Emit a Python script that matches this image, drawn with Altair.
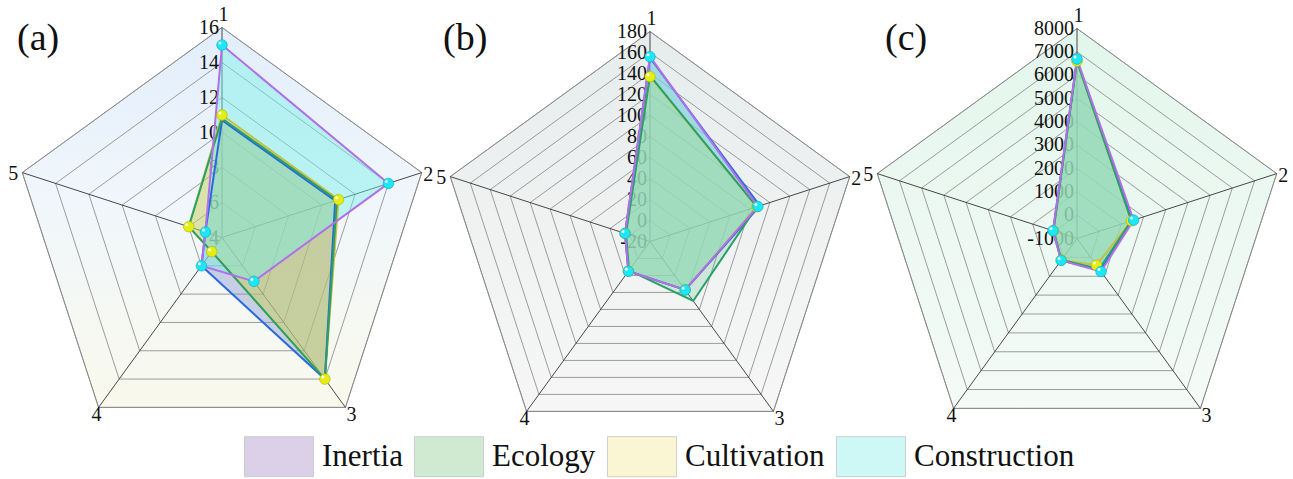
import altair as alt
import pandas as pd

FONT = "'Liberation Serif', 'Times New Roman', 'DejaVu Serif', serif"

# ---------------- data ----------------
PANELS = ["(a)", "(b)", "(c)"]
AXES = ["1", "2", "3", "4", "5"]
SERIES = ["Inertia", "Ecology", "Cultivation", "Construction"]

TICKS_A = [4, 6, 8, 10, 12, 14, 16]
TICKS_B = [-20, 0, 20, 40, 60, 80, 100, 120, 140, 160, 180]
TICKS_C = [-1000, 0, 1000, 2000, 3000, 4000, 5000, 6000, 7000, 8000]

# panel (a)
INERTIA_A = [10.7, 10.8, 14.0, 6.0, 5.0]
ECOLOGY_A = [10.8, 10.9, 14.0, 5.0, 6.0]
CULTIVATION_A = [11.0, 11.0, 14.0, 5.0, 6.0]
CONSTRUCTION_A = [15.0, 14.0, 7.1, 6.0, 5.0]
# panel (b)
INERTIA_B = [155, 90, 37, 15, 5]
ECOLOGY_B = [138, 87, 50, 14, 4]
CULTIVATION_B = [137, 87, 37, 15, 5]
CONSTRUCTION_B = [156, 88, 37, 15, 5]
# panel (c)
INERTIA_C = [6650, 1500, 700, 150, 80]
ECOLOGY_C = [6600, 1450, 620, 140, 60]
CULTIVATION_C = [6600, 1450, 410, 140, 60]
CONSTRUCTION_C = [6690, 1550, 750, 160, 80]

# ---------------- styling ----------------
FILL_COLORS = ["#8290cc", "#3cb878", "#f0d75a", "#78f0e6"]
FILL_OPACITY = [0.4, 0.2, 0.4, 0.45]
LINE_COLORS = ["#2a68e0", "#28a068", "#c8c040", "#b070e8"]
LINE_ORDER = ["Cultivation", "Inertia", "Ecology", "Construction"]
SWATCH_COLORS = ["#dcd0e8", "#d0ead2", "#faf5d2", "#cdf8f5"]
MARKER_SERIES = ["Cultivation", "Construction"]
MARKER_FILL = ["#e4ee14", "#1ee6f6"]
MARKER_EDGE = ["#b4bc00", "#0ab0c8"]

BG_STOPS = [
    [("#e2eefc", 0), ("#f0f6fb", 0.45), ("#f9f9ec", 1)],
    [("#e6ecec", 0), ("#eff1f1", 0.45), ("#f6f6f6", 1)],
    [("#e2f6ec", 0), ("#ebf8f1", 0.45), ("#f3fbf6", 1)],
]

# ---------------- layout ----------------
W, H = 1293, 479
CENTER_X = [222, 650, 1077]
CENTER_Y = [237.5, 241.5, 238.5]
RADIUS = 210
TITLE_X = [17, 443, 885]
TITLE_Y = 50
# (align, dx, dy) of the spoke labels 1..5
AXIS_LABEL_STYLE = [("center", 1.5, -13), ("left", 1.5, 2), ("center", 6, 8),
                    ("center", -2, 8), ("right", -4, 1)]

ticks = [TICKS_A, TICKS_B, TICKS_C]
values = [
    [INERTIA_A, ECOLOGY_A, CULTIVATION_A, CONSTRUCTION_A],
    [INERTIA_B, ECOLOGY_B, CULTIVATION_B, CONSTRUCTION_B],
    [INERTIA_C, ECOLOGY_C, CULTIVATION_C, CONSTRUCTION_C],
]

series_rows, ring_rows, tick_rows, spoke_rows = [], [], [], []
for p, panel in enumerate(PANELS):
    base = dict(panel=panel, lo=ticks[p][0], hi=ticks[p][-1],
                cx=CENTER_X[p], cy=CENTER_Y[p])
    for s, name in enumerate(SERIES):
        for j, v in enumerate(values[p][s]):
            series_rows.append({**base, "series": name, "key": f"{panel} {name}",
                                "j": j, "value": v})
    for k, t in enumerate(ticks[p]):
        tick_rows.append({**base, "j": 0, "value": t, "label": str(t)})
        if k > 0:
            for j in range(len(AXES)):
                ring_rows.append({**base, "ring": f"{panel} {k}", "j": j, "value": t})
    for j, ax in enumerate(AXES):
        spoke_rows.append({**base, "j": j, "value": ticks[p][-1], "axis": ax})

df_series = pd.DataFrame(series_rows)
df_rings = pd.DataFrame(ring_rows)
df_ticks = pd.DataFrame(tick_rows)
df_spokes = pd.DataFrame(spoke_rows)
df_titles = pd.DataFrame({"panel": PANELS, "tx": TITLE_X, "ty": [TITLE_Y] * 3})

XS = alt.Scale(domain=[0, W], nice=False, zero=False)
YS = alt.Scale(domain=[H, 0], nice=False, zero=False)
X = alt.X("px:Q", scale=XS, axis=None)
Y = alt.Y("py:Q", scale=YS, axis=None)


def placed(df):
    """Polar -> screen position of each (axis index j, value) pair."""
    return (
        alt.Chart(df)
        .transform_calculate(ang="2 * PI * datum.j / 5")
        .transform_calculate(rr=f"(datum.value - datum.lo) / (datum.hi - datum.lo) * {RADIUS}")
        .transform_calculate(px="datum.cx + datum.rr * sin(datum.ang)")
        .transform_calculate(py="datum.cy - datum.rr * cos(datum.ang)")
    )


layers = []

# shaded pentagon behind each web
for p, panel in enumerate(PANELS):
    grad = alt.Gradient(
        gradient="linear",
        stops=[alt.GradientStop(color=c, offset=o) for c, o in BG_STOPS[p]],
        x1=0, x2=0, y1=0, y2=1,
    )
    layers.append(
        placed(df_spokes).transform_filter(alt.datum.panel == panel)
        .mark_line(interpolate="linear-closed", fill=grad, stroke="#858585", strokeWidth=0.8)
        .encode(x=X, y=Y, order="j:Q")
    )

# concentric rings
layers.append(
    placed(df_rings)
    .mark_line(interpolate="linear-closed", color="#858585", strokeWidth=0.8)
    .encode(x=X, y=Y, detail="ring:N", order="j:Q")
)

# spokes
layers.append(
    placed(df_spokes)
    .mark_rule(color="#333333", strokeWidth=0.9)
    .encode(x=X, y=Y, x2="cx:Q", y2="cy:Q")
)

# radial tick labels along spoke 1
layers.append(
    placed(df_ticks)
    .mark_text(font=FONT, fontSize=20, align="right", baseline="middle", dx=-3, color="#111111")
    .encode(x=X, y=Y, text="label:N")
)

# translucent areas
for s, name in enumerate(SERIES):
    layers.append(
        placed(df_series).transform_filter(alt.datum.series == name)
        .mark_line(interpolate="linear-closed", fill=FILL_COLORS[s],
                   fillOpacity=FILL_OPACITY[s], strokeOpacity=0)
        .encode(x=X, y=Y, detail="key:N", order="j:Q")
    )

# outlines
for name in LINE_ORDER:
    s = SERIES.index(name)
    layers.append(
        placed(df_series).transform_filter(alt.datum.series == name)
        .mark_line(interpolate="linear-closed", color=LINE_COLORS[s],
                   strokeWidth=2, strokeJoin="round")
        .encode(x=X, y=Y, detail="key:N", order="j:Q")
    )

# ball markers
for m, name in enumerate(MARKER_SERIES):
    pts = placed(df_series).transform_filter(alt.datum.series == name)
    layers.append(
        pts.mark_circle(size=110, fill=MARKER_FILL[m], stroke=MARKER_EDGE[m],
                        strokeWidth=0.7, opacity=1)
        .encode(x=X, y=Y)
    )
    layers.append(
        pts.mark_circle(size=9, color="white", opacity=0.9, xOffset=-2, yOffset=-2)
        .encode(x=X, y=Y)
    )

# spoke numbers
for j, (align, dx, dy) in enumerate(AXIS_LABEL_STYLE):
    layers.append(
        placed(df_spokes).transform_filter(alt.datum.j == j)
        .mark_text(font=FONT, fontSize=20, align=align, baseline="middle",
                   dx=dx, dy=dy, color="#111111")
        .encode(x=X, y=Y, text="axis:N")
    )

# panel letters
layers.append(
    alt.Chart(df_titles)
    .mark_text(font=FONT, fontSize=38, align="left", baseline="alphabetic", color="#111111")
    .encode(x=alt.X("tx:Q", scale=XS, axis=None),
            y=alt.Y("ty:Q", scale=YS, axis=None),
            text="panel:N")
)

# legend carrier (zero-size symbols)
layers.append(
    placed(df_series)
    .mark_square(size=0, filled=True)
    .encode(
        x=X, y=Y,
        color=alt.Color(
            "series:N",
            scale=alt.Scale(domain=SERIES, range=SWATCH_COLORS),
            legend=alt.Legend(
                title=None, orient="none", legendX=244, legendY=421.5,
                direction="horizontal", columns=4,
                symbolType="M-1,-0.58H1V0.58H-1Z", symbolSize=4761,
                symbolOpacity=1, symbolStrokeColor="#c4c4c4", symbolStrokeWidth=0.8,
                labelFont=FONT, labelFontSize=31, labelColor="#111111",
                labelOffset=8, columnPadding=9, padding=0, labelLimit=400,
            ),
        ),
    )
)

chart = (
    alt.layer(*layers)
    .properties(width=W, height=H, autosize=alt.AutoSizeParams(type="none"), padding=0,
                background="white")
    .configure_view(stroke=None)
)

chart.save("out.html", embed_options={"renderer": "svg", "actions": False})
